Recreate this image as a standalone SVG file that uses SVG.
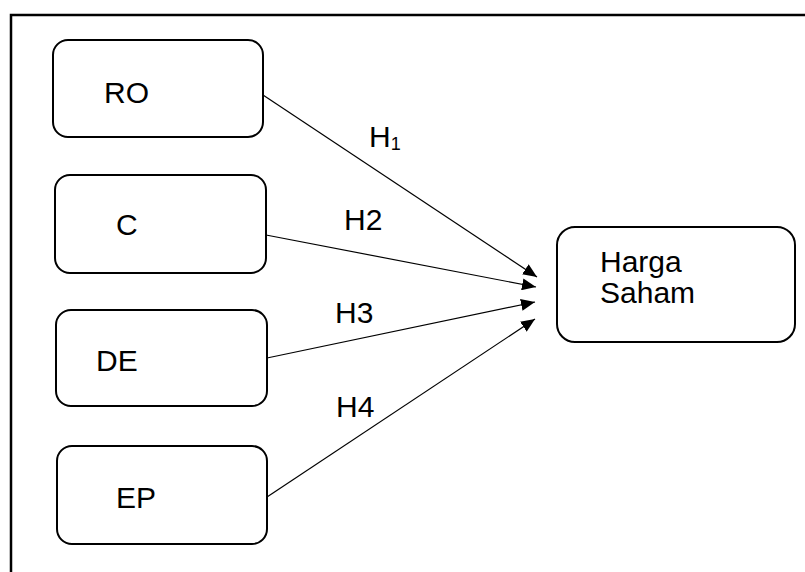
<svg xmlns="http://www.w3.org/2000/svg" width="805" height="572" viewBox="0 0 805 572">
<style>
.box{fill:#fff;stroke:#000;stroke-width:2}
.t{font-family:"Liberation Sans",Arial,sans-serif;font-size:30px;fill:#000}
.c{stroke:#000;stroke-width:1.2;fill:none}
</style>
<defs>
<marker id="ah" viewBox="0 0 14 12" refX="14" refY="6" markerWidth="14" markerHeight="12" markerUnits="userSpaceOnUse" orient="auto">
<path d="M0,0 L14,6 L0,12 Z" fill="#000"/>
</marker>
</defs>
<rect width="805" height="572" fill="#fff"/>
<path d="M11,572 L11,15 L805,15" fill="none" stroke="#000" stroke-width="2.5"/>
<g id="node-RO"><rect class="box" x="53" y="40" width="210" height="97" rx="15"/><text class="t" x="104" y="103">RO</text></g>
<g id="node-C"><rect class="box" x="55" y="175" width="211" height="98" rx="15"/><text class="t" x="116" y="235">C</text></g>
<g id="node-DE"><rect class="box" x="56" y="310" width="211" height="96" rx="15"/><text class="t" x="96" y="371">DE</text></g>
<g id="node-EP"><rect class="box" x="57" y="446" width="210" height="98" rx="15"/><text class="t" x="116" y="508">EP</text></g>
<g id="node-HS"><rect class="box" x="557" y="227" width="238" height="115" rx="18"/><text class="t" x="600" y="272">Harga</text><text class="t" x="600" y="303">Saham</text></g>
<g id="connectors">
<line class="c" x1="263" y1="95" x2="537" y2="277" marker-end="url(#ah)"/>
<line class="c" x1="266" y1="235" x2="536" y2="287" marker-end="url(#ah)"/>
<line class="c" x1="267" y1="358" x2="535" y2="302" marker-end="url(#ah)"/>
<line class="c" x1="267" y1="497" x2="535" y2="319" marker-end="url(#ah)"/>
</g>
<g id="labels">
<text class="t" x="369" y="147">H<tspan font-size="18" dy="3">1</tspan></text>
<text class="t" x="344" y="230">H2</text>
<text class="t" x="335" y="323">H3</text>
<text class="t" x="336" y="417">H4</text>
</g>
</svg>
